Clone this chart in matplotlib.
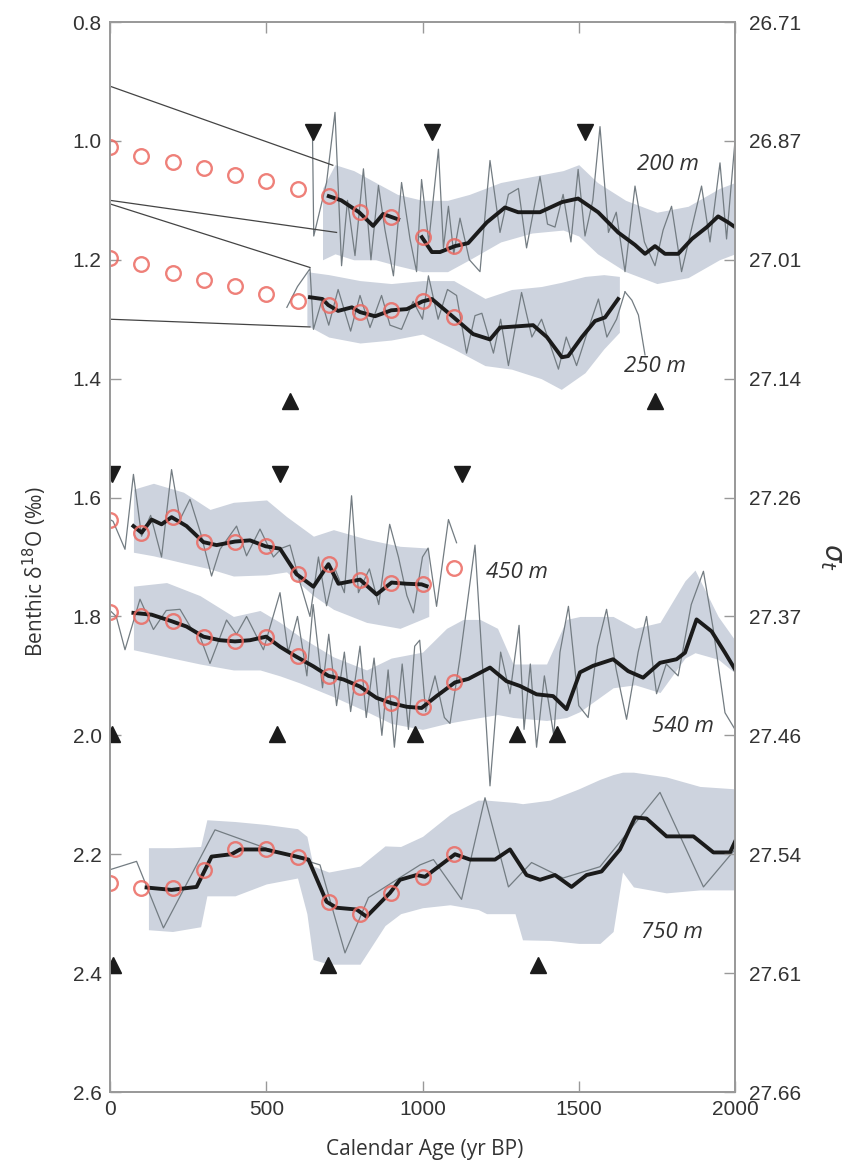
import numpy as np
import matplotlib.pyplot as plt

nan = np.nan

# ---- 200 m ----
r200_x = [648, 652, 693, 720, 741, 760, 784, 811, 835, 859, 880, 907, 933, 960, 981, 997, 1020, 1051, 1067,
          1083, 1100, 1120, 1150, 1184, 1216, 1248, 1275, 1307, 1333, 1376, 1400, 1424, 1450, 1475, 1498,
          1520, 1545, 1568, 1595, 1620, 1648, 1680, 1710, 1744, 1770, 1797, 1829, 1860, 1893, 1920, 1952,
          1973, 2000]
r200_y = [0.99, 1.16, 1.07, 0.952, 1.21, 1.10, 1.193, 1.047, 1.20, 1.075, 1.15, 1.227, 1.07, 1.165, 1.22,
          1.065, 1.17, 1.014, 1.18, 1.11, 1.19, 1.13, 1.20, 1.22, 1.033, 1.154, 1.09, 1.08, 1.18, 1.06, 1.14,
          1.145, 1.09, 1.17, 1.048, 1.16, 1.10, 0.976, 1.154, 1.12, 1.22, 1.076, 1.17, 1.21, 1.15, 1.11, 1.22,
          1.15, 1.076, 1.17, 1.037, 1.165, 1.0]
s200_x = [700, 740, 797, 842, 874, 922, nan, 998, 1030, 1056, 1104, 1146, 1206, 1264, 1306, 1376, 1446, 1498,
          1562, 1626, 1680, 1712, 1744, 1776, 1818, 1862, 1910, 1946, 1978, 2000]
s200_y = [1.093, 1.10, 1.12, 1.143, 1.123, 1.132, nan, 1.162, 1.187, 1.187, 1.177, 1.172, 1.137, 1.112, 1.12,
          1.12, 1.103, 1.097, 1.12, 1.154, 1.175, 1.19, 1.177, 1.19, 1.19, 1.165, 1.145, 1.127, 1.137, 1.145]
b200_x = [680, 720, 780, 850, 920, 1000, 1080, 1150, 1250, 1350, 1450, 1500, 1560, 1650, 1750, 1850, 1950, 2000]
b200_hi = [1.08, 1.04, 1.05, 1.07, 1.09, 1.10, 1.10, 1.09, 1.07, 1.06, 1.05, 1.04, 1.07, 1.10, 1.12, 1.11, 1.08, 1.07]
b200_lo = [1.20, 1.19, 1.20, 1.20, 1.21, 1.22, 1.22, 1.20, 1.17, 1.155, 1.15, 1.16, 1.19, 1.22, 1.24, 1.23, 1.20, 1.19]
c200 = [1.010, 1.025, 1.035, 1.045, 1.057, 1.068, 1.081, 1.093, 1.12, 1.128, 1.162, 1.177]

# ---- 250 m ----
r250_x = [566, 600, 640, 651, 677, 700, 730, 770, 800, 832, 869, 896, 933, 970, 1000, 1019, 1050, 1080, 1109,
          1141, 1168, 1190, 1227, 1250, 1275, 1317, 1350, 1381, 1435, 1460, 1493, 1541, 1563, 1590, 1621, 1648]
r250_y = [1.28, 1.245, 1.215, 1.317, 1.27, 1.31, 1.25, 1.32, 1.26, 1.314, 1.26, 1.31, 1.317, 1.27, 1.30,
          1.227, 1.30, 1.25, 1.26, 1.357, 1.294, 1.29, 1.357, 1.30, 1.378, 1.255, 1.33, 1.30, 1.384, 1.33,
          1.378, 1.30, 1.266, 1.33, 1.30, 1.254]
s250_x = [640, 680, 698, 730, 774, 800, 848, 900, 950, 1000, 1030, 1100, 1162, 1216, 1248, 1302, 1354, 1398,
          1446, 1466, 1510, 1552, 1584, 1626]
s250_y = [1.263, 1.266, 1.276, 1.286, 1.28, 1.288, 1.295, 1.285, 1.283, 1.27, 1.266, 1.297, 1.325, 1.334,
          1.314, 1.312, 1.31, 1.33, 1.364, 1.362, 1.33, 1.303, 1.297, 1.266]
b250_x = [630, 700, 800, 900, 1000, 1100, 1200, 1285, 1380, 1444, 1520, 1580, 1630]
b250_hi = [1.22, 1.225, 1.235, 1.24, 1.235, 1.235, 1.265, 1.25, 1.245, 1.238, 1.228, 1.225, 1.228]
b250_lo = [1.31, 1.33, 1.34, 1.335, 1.325, 1.35, 1.378, 1.384, 1.40, 1.418, 1.39, 1.35, 1.322]
c250 = [1.197, 1.207, 1.223, 1.234, 1.244, 1.258, 1.27, 1.276, 1.288, 1.285, 1.27, 1.297]
lead250_x = [1648, 1670, 1691, 1712]
lead250_y = [1.254, 1.268, 1.293, 1.36]

# ---- 450 m ----
r450_x = [0, 10, 48, 75, 101, 130, 165, 197, 224, 256, 290, 325, 352, 405, 437, 480, 523, 550, 576, 608, 640,
          667, 693, 720, 750, 773, 795, 830, 860, 895, 923, 950, 971, 1000, 1018, 1045, 1083, 1109]
r450_y = [1.637, 1.64, 1.687, 1.561, 1.665, 1.63, 1.70, 1.553, 1.637, 1.603, 1.66, 1.732, 1.687, 1.648, 1.698,
          1.653, 1.70, 1.685, 1.68, 1.743, 1.80, 1.70, 1.782, 1.72, 1.76, 1.597, 1.76, 1.72, 1.78, 1.645, 1.70,
          1.765, 1.794, 1.70, 1.685, 1.783, 1.637, 1.676]
s450_x = [75, 101, 133, 165, 197, 245, 299, 341, 400, 448, 498, 544, 597, 651, 699, 731, 800, 853, 901, 949,
          997, 1013]
s450_y = [1.648, 1.659, 1.637, 1.645, 1.633, 1.648, 1.675, 1.68, 1.674, 1.672, 1.682, 1.686, 1.729, 1.75,
          1.712, 1.745, 1.738, 1.763, 1.743, 1.745, 1.746, 1.749]
b450_x = [75, 139, 235, 320, 395, 501, 565, 651, 715, 821, 928, 1020]
b450_hi = [1.586, 1.576, 1.591, 1.62, 1.608, 1.604, 1.632, 1.665, 1.654, 1.67, 1.682, 1.685]
b450_lo = [1.692, 1.698, 1.71, 1.72, 1.732, 1.73, 1.725, 1.765, 1.788, 1.81, 1.82, 1.80]
c450 = [1.637, 1.659, 1.633, 1.675, 1.674, 1.682, 1.729, 1.712, 1.738, 1.743, 1.746, 1.719]

# ---- 540 m ----
r540_x = [0, 20, 48, 96, 139, 180, 224, 260, 288, 320, 373, 405, 437, 491, 544, 570, 600, 630, 650, 680, 700,
          725, 750, 770, 800, 820, 845, 870, 890, 910, 935, 955, 975, 991, 1010, 1040, 1070, 1088, 1120, 1168,
          1216, 1250, 1280, 1309, 1325, 1345, 1365, 1390, 1420, 1440, 1467, 1500, 1530, 1560, 1589, 1620,
          1653, 1690, 1717, 1749, 1780, 1818, 1860, 1899, 1930, 1968, 2000]
r540_y = [1.79, 1.80, 1.856, 1.771, 1.822, 1.79, 1.788, 1.82, 1.834, 1.879, 1.806, 1.83, 1.80, 1.856, 1.76,
          1.86, 1.80, 1.90, 1.78, 1.92, 1.83, 1.95, 1.86, 1.96, 1.85, 1.97, 1.87, 2.00, 1.89, 2.02, 1.88, 1.99,
          1.85, 1.84, 1.96, 1.90, 1.97, 1.98, 1.87, 1.68, 2.085, 1.86, 1.93, 1.815, 1.99, 1.88, 2.02, 1.90,
          2.00, 1.86, 1.783, 1.95, 1.97, 1.85, 1.788, 1.89, 1.973, 1.86, 1.80, 1.93, 1.88, 1.90, 1.78, 1.724,
          1.82, 1.962, 1.99]
s540_x = [75, 133, 197, 245, 299, 352, 400, 448, 500, 544, 597, 651, 699, 747, 800, 853, 901, 950, 997, 1045,
          1104, 1147, 1216, 1269, 1312, 1365, 1418, 1461, 1504, 1546, 1610, 1658, 1706, 1760, 1813, 1840, 1877,
          1925, 1968, 2000]
s540_y = [1.794, 1.797, 1.808, 1.817, 1.834, 1.84, 1.842, 1.84, 1.834, 1.851, 1.868, 1.884, 1.90, 1.906,
          1.918, 1.937, 1.946, 1.952, 1.954, 1.934, 1.911, 1.905, 1.886, 1.909, 1.917, 1.931, 1.934, 1.956,
          1.894, 1.883, 1.872, 1.892, 1.903, 1.878, 1.872, 1.861, 1.805, 1.825, 1.861, 1.889]
b540_x = [75, 181, 288, 395, 480, 544, 608, 715, 821, 900, 1000, 1077, 1130, 1184, 1240, 1290, 1397, 1461,
          1504, 1610, 1680, 1760, 1840, 1872, 1946, 2000]
b540_hi = [1.749, 1.743, 1.765, 1.80, 1.79, 1.81, 1.834, 1.868, 1.89, 1.87, 1.86, 1.82, 1.805, 1.805, 1.82,
           1.88, 1.88, 1.805, 1.80, 1.80, 1.82, 1.81, 1.74, 1.722, 1.80, 1.84]
b540_lo = [1.856, 1.868, 1.88, 1.89, 1.89, 1.90, 1.912, 1.935, 1.96, 1.98, 1.99, 1.98, 1.975, 1.97, 1.965,
           1.97, 1.975, 1.97, 1.96, 1.92, 1.915, 1.928, 1.87, 1.861, 1.872, 1.895]
c540 = [1.793, 1.80, 1.808, 1.834, 1.842, 1.834, 1.867, 1.90, 1.918, 1.946, 1.953, 1.911]

# ---- 750 m ----
r750_x = [0, 85, 171, 336, 500, 672, 752, 827, 992, 1035, 1125, 1200, 1275, 1349, 1450, 1568, 1760, 1899, 2000]
r750_y = [2.226, 2.212, 2.324, 2.159, 2.19, 2.218, 2.366, 2.273, 2.218, 2.209, 2.276, 2.105, 2.255, 2.214,
          2.24, 2.221, 2.096, 2.255, 2.192]
s750_x = [117, 197, 277, 325, 389, 416, 498, 597, 635, 693, 725, 789, 821, 896, 928, 981, 1008, 1104, 1152,
          1232, 1280, 1333, 1376, 1424, 1477, 1525, 1573, 1632, 1680, 1717, 1781, 1867, 1931, 1984, 2000]
s750_y = [2.256, 2.26, 2.255, 2.204, 2.20, 2.192, 2.192, 2.204, 2.209, 2.28, 2.29, 2.293, 2.305, 2.265, 2.243,
          2.235, 2.238, 2.20, 2.209, 2.209, 2.192, 2.235, 2.243, 2.235, 2.255, 2.235, 2.229, 2.192, 2.138,
          2.14, 2.17, 2.17, 2.197, 2.197, 2.179]
b750_x = [123, 200, 290, 310, 400, 500, 600, 630, 650, 700, 800, 880, 930, 1000, 1088, 1178, 1205, 1296, 1320,
          1408, 1500, 1568, 1610, 1640, 1675, 1780, 1888, 2000]
b750_hi = [2.189, 2.189, 2.187, 2.142, 2.145, 2.15, 2.157, 2.17, 2.22, 2.23, 2.22, 2.186, 2.187, 2.17, 2.133,
           2.109, 2.109, 2.113, 2.115, 2.109, 2.09, 2.074, 2.066, 2.062, 2.062, 2.07, 2.086, 2.09]
b750_lo = [2.327, 2.33, 2.322, 2.27, 2.27, 2.25, 2.24, 2.30, 2.377, 2.385, 2.385, 2.32, 2.30, 2.29, 2.285,
           2.293, 2.30, 2.30, 2.344, 2.345, 2.35, 2.35, 2.33, 2.23, 2.255, 2.265, 2.26, 2.26]
c750 = [2.248, 2.256, 2.256, 2.226, 2.192, 2.192, 2.204, 2.28, 2.30, 2.265, 2.238, 2.20]

circle_ages = [0, 100, 200, 300, 400, 500, 600, 700, 800, 900, 1000, 1100]

# triangles (age tie points)
down_x = [650, 1030, 1520, 5, 544, 1126]
down_y = [0.985, 0.985, 0.985, 1.561, 1.561, 1.561]
up_x = [576, 1744, 5, 534, 976, 1302, 1430, 10, 698, 1370]
up_y = [1.438, 1.438, 1.997, 1.997, 1.997, 1.997, 1.997, 2.386, 2.386, 2.386]

# connector lines from the left axis
conn = [((0, 713), (0.908, 1.041)), ((0, 725), (1.10, 1.154)),
        ((0, 640), (1.106, 1.213)), ((0, 640), (1.30, 1.313))]

labels = ['200 m', '250 m', '450 m', '540 m', '750 m']
label_x = [1786, 1744, 1302, 1834, 1798]
label_y = [1.04, 1.379, 1.726, 1.985, 2.332]

left_ticks = [0.8, 1.0, 1.2, 1.4, 1.6, 1.8, 2.0, 2.2, 2.4, 2.6]
right_labels = ['26.71', '26.87', '27.01', '27.14', '27.26', '27.37', '27.46', '27.54', '27.61', '27.66']

band_c = '#cdd3de'
raw_c = '#737c82'
red_c = '#ec6a62'

fig = plt.figure(figsize=(8.5, 11.7), dpi=100)
ax = fig.add_axes([110/850, 1-1092/1170, 625/850, 1070/1170])

records = [
    (r200_x, r200_y, s200_x, s200_y, b200_x, b200_hi, b200_lo, c200),
    (r250_x, r250_y, s250_x, s250_y, b250_x, b250_hi, b250_lo, c250),
    (r450_x, r450_y, s450_x, s450_y, b450_x, b450_hi, b450_lo, c450),
    (r540_x, r540_y, s540_x, s540_y, b540_x, b540_hi, b540_lo, c540),
    (r750_x, r750_y, s750_x, s750_y, b750_x, b750_hi, b750_lo, c750),
]
for rx, ry, sx, sy, bx, bhi, blo, cy in records:
    ax.fill_between(bx, bhi, blo, color=band_c, lw=0, zorder=1)
    ax.plot(rx, ry, color=raw_c, lw=0.9, zorder=2)
    ax.plot(sx, sy, color='#1b1b1b', lw=2.8, zorder=3)
    ax.plot(circle_ages, cy, 'o', ms=10.5, mfc='none', mec=red_c, mew=1.7, alpha=0.85, zorder=4)

ax.plot(lead250_x, lead250_y, color=raw_c, lw=0.9, zorder=2)

for xs, ys in conn:
    ax.plot(xs, ys, color='#444444', lw=0.9, zorder=2)

ax.plot(down_x, down_y, 'v', color='#1b1b1b', ms=11, ls='none', zorder=5)
ax.plot(up_x, up_y, '^', color='#1b1b1b', ms=11, ls='none', zorder=5)

for t, x, y in zip(labels, label_x, label_y):
    ax.text(x, y, t, ha='center', va='center', fontsize=16, style='italic',
            family=['Open Sans', 'DejaVu Sans'], color='#333333', zorder=6)

ax.set_xlim(0, 2000)
ax.set_ylim(2.6, 0.8)
ax.set_yticks(left_ticks)
ax.set_yticklabels([f'{v:.1f}' for v in left_ticks])
ax.set_xticks([0, 500, 1000, 1500, 2000])
ax.tick_params(direction='in', length=8, width=1, color='#999999', labelsize=15,
               labelcolor='#333333', top=True, pad=6)
for lab in ax.get_xticklabels() + ax.get_yticklabels():
    lab.set_family('Liberation Sans')

ax2 = ax.twinx()
ax2.set_ylim(2.6, 0.8)
ax2.set_yticks(left_ticks)
ax2.set_yticklabels(right_labels)
ax2.tick_params(direction='in', length=8, width=1, color='#999999', labelsize=15,
                labelcolor='#333333', pad=10)
for lab in ax2.get_yticklabels():
    lab.set_family('Liberation Sans')

for a in (ax, ax2):
    for s in a.spines.values():
        s.set_color('#9a9a9a')
        s.set_linewidth(1.3)

fig.text(35/850, 1-572/1170, 'Benthic δ$^{18}$O (‰)', rotation=90, ha='center', va='center',
         fontsize=15, family=['Open Sans', 'DejaVu Sans'], color='#333333')
fig.text(425/850, 1-1150/1170, 'Calendar Age (yr BP)', ha='center', va='center',
         fontsize=15, family=['Open Sans', 'DejaVu Sans'], color='#333333')
fig.text(832/850, 1-557/1170, r'$\sigma_t$', rotation=270, ha='center', va='center',
         fontsize=20, color='#333333')

fig.savefig('out.png', dpi=100)
